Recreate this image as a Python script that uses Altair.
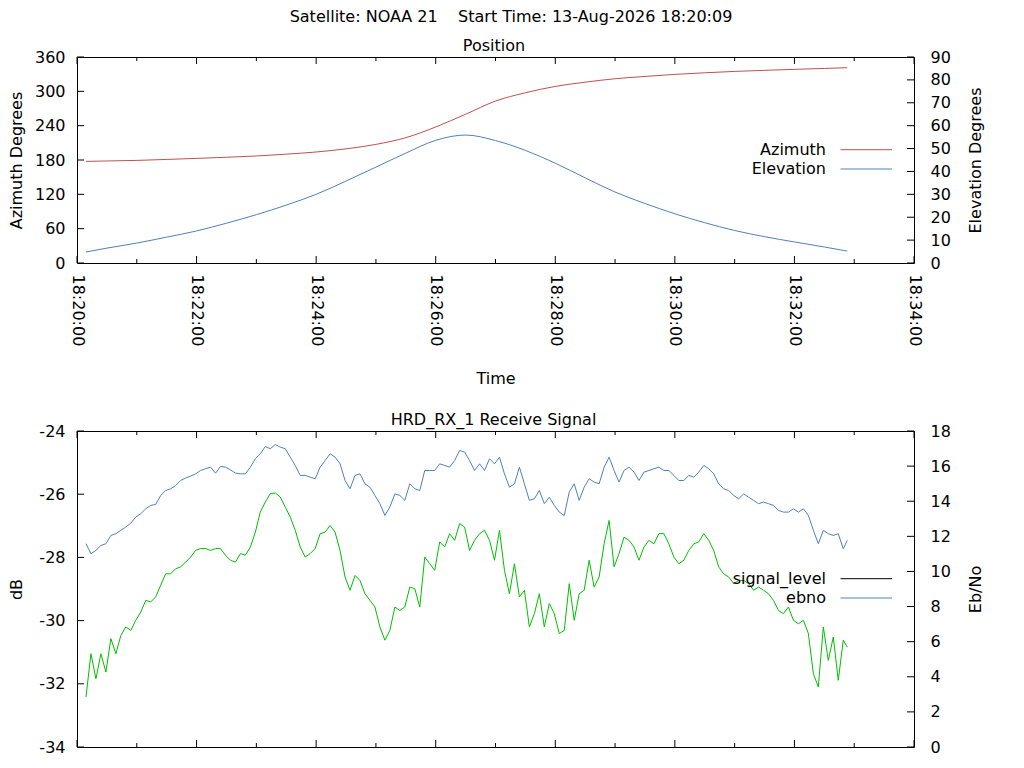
import altair as alt
import pandas as pd

DATE = "2026-08-13"
MAIN_TITLE = ["Satellite: NOAA 21\u00a0\u00a0\u00a0\u00a0Start Time: 13-Aug-2026 18:20:09"]
POS_TITLE = ["Position"]
SIG_TITLE = ["HRD_RX_1 Receive Signal"]

# ---- Position panel data ----
pos_times = ["18:20:09", "18:20:30", "18:21:00", "18:21:30", "18:22:00", "18:22:30",
             "18:23:00", "18:23:30", "18:24:00", "18:24:30", "18:25:00", "18:25:30",
             "18:26:00", "18:26:30", "18:27:00", "18:27:30", "18:28:00", "18:28:30",
             "18:29:00", "18:29:30", "18:30:00", "18:30:30", "18:31:00", "18:31:30",
             "18:32:00", "18:32:30", "18:32:53"]
azimuth = [177.6, 178.3, 179.3, 181.0, 182.8, 184.8, 187.0, 190.2, 194.0, 199.5,
           207.3, 219.0, 237.7, 260.0, 283.0, 297.5, 308.6, 316.0, 322.0, 326.0,
           329.6, 332.4, 334.8, 336.7, 338.4, 340.0, 341.3]
elevation = [4.8, 6.5, 8.7, 11.3, 14.0, 17.4, 21.1, 25.3, 30.0, 35.8,
             41.9, 48.0, 53.6, 55.9, 53.5, 49.2, 43.6, 37.2, 31.0, 26.0,
             21.5, 17.6, 14.2, 11.5, 9.2, 7.0, 5.2]

# ---- Receive signal panel data (seconds after 18:20:00) ----
sig_seconds = list(range(9, 770, 5)) + [773]
signal_level = [
    -32.42, -31.05, -31.84, -31.05, -31.63, -30.57, -31.05, -30.47, -30.20, -30.31,
    -29.99, -29.73, -29.36, -29.41, -29.25, -28.88, -28.52, -28.52, -28.36, -28.30,
    -28.15, -27.99, -27.78, -27.72, -27.72, -27.78, -27.72, -27.72, -27.93, -28.09,
    -28.15, -27.88, -27.93, -27.67, -27.20, -26.56, -26.25, -25.98, -25.96,
    -26.09, -26.41, -26.72, -27.14, -27.67, -27.99, -27.88, -27.72, -27.25, -27.20,
    -26.99, -27.20, -27.78, -28.62, -29.04, -28.57, -28.73, -29.15, -29.36, -29.57,
    -30.20, -30.62, -30.31, -29.57, -29.68, -29.57, -28.94, -28.99, -29.57, -27.99,
    -28.20, -28.41, -27.51, -27.67, -27.25, -27.46, -26.93, -27.04, -27.78, -27.46,
    -27.25, -27.14, -27.46, -28.09, -27.14, -28.41, -29.15, -28.20, -29.25, -29.04,
    -30.20, -29.78, -29.15, -30.20, -29.46, -29.78, -30.41, -30.31, -28.83, -29.99,
    -29.15, -29.04, -28.09, -28.94, -28.62, -27.57, -26.83, -28.30, -27.88, -27.36,
    -27.46, -27.67, -28.09, -27.67, -27.46, -27.57, -27.25, -27.25, -27.57, -27.99,
    -28.20, -28.09, -27.78, -27.57, -27.51, -27.25, -27.46, -27.78, -28.30, -28.52,
    -28.62, -28.83, -28.73, -28.73, -28.83, -29.04, -28.94, -29.04, -29.15, -29.36,
    -29.68, -29.78, -29.57, -29.99, -30.10, -29.99,
    -30.41, -31.68, -32.10, -30.20, -31.26, -30.52, -31.89, -30.62, -30.84,
]
ebno = [
    11.58, 11.01, 11.20, 11.48, 11.58, 12.05, 12.15, 12.34, 12.53, 12.75,
    13.10, 13.29, 13.57, 13.76, 13.82, 14.33, 14.61, 14.71, 14.90, 15.18,
    15.32, 15.43, 15.56, 15.75, 15.85, 15.94, 15.60, 15.98, 15.94, 15.79,
    15.60, 15.56, 15.56, 15.94, 16.42, 16.70, 17.12, 16.99, 17.23,
    17.08, 16.99, 16.51, 16.04, 15.47, 15.47, 15.37, 15.28, 15.94, 16.32,
    16.70, 16.51, 16.13, 15.18, 14.71, 15.47, 15.56, 14.99, 14.80, 14.33,
    13.86, 13.19, 13.67, 14.42, 14.33, 14.05, 14.99, 14.71, 14.61, 15.75,
    15.75, 15.75, 16.13, 16.04, 15.94, 16.32, 16.89, 16.80, 16.32, 15.75,
    16.13, 15.75, 16.42, 16.13, 16.51, 15.56, 14.80, 14.99, 15.94, 14.99,
    14.05, 14.14, 14.61, 13.86, 14.23, 13.76, 13.38, 13.19, 14.52, 14.99,
    14.05, 14.80, 15.28, 15.09, 14.99, 15.94, 16.51, 15.75, 15.09, 15.75,
    15.94, 15.66, 15.18, 15.66, 15.75, 15.85, 15.94, 15.75, 15.75, 15.47,
    15.18, 15.18, 15.47, 15.37, 15.66, 16.04, 15.85, 15.56, 14.99, 14.71,
    14.61, 14.33, 14.14, 14.42, 14.23, 14.05, 13.86, 13.95, 13.86, 13.76,
    13.48, 13.38, 13.38, 13.57, 13.38, 13.57, 13.19, 12.34, 11.58, 12.34,
    12.15, 12.05, 12.15, 11.29, 11.77,
]

# ---- ticks / labels ----
major_ticks = ["18:20", "18:22", "18:24", "18:26", "18:28", "18:30", "18:32", "18:34"]
minor_ticks = ["18:21", "18:23", "18:25", "18:27", "18:29", "18:31", "18:33"]
az_ticks = [0, 60, 120, 180, 240, 300, 360]
el_ticks = [0, 10, 20, 30, 40, 50, 60, 70, 80, 90]
db_ticks = [-34, -32, -30, -28, -26, -24]
ebno_ticks = [0, 2, 4, 6, 8, 10, 12, 14, 16, 18]
pos_legend = ["Azimuth", "Elevation"]
sig_legend = ["signal_level", "ebno"]

RED = "#c0504d"
BLUE = "#4f81bd"
GREEN = "#00c000"
FONT = "DejaVu Sans"

W = 837
H_TOP = 206
H_BOT = 316
MAJOR = 7
MINOR = 4


def dt(hhmm):
    h, m = (int(v) for v in hhmm.split(":"))
    return alt.DateTime(year=2026, month=8, date=13, hours=h, minutes=m)


XSCALE = alt.Scale(domain=[dt("18:20"), dt("18:34")])

pos_df = pd.DataFrame({
    "time": [f"{DATE}T{t}" for t in pos_times],
    "azimuth": azimuth,
    "elevation": elevation,
})
start = pd.Timestamp(f"{DATE} 18:20:00")
n = min(len(sig_seconds), len(signal_level), len(ebno))
sig_df = pd.DataFrame({
    "time": [(start + pd.Timedelta(seconds=s)).strftime("%Y-%m-%dT%H:%M:%S")
             for s in sig_seconds[:n]],
    "signal_level": signal_level[:n],
    "ebno": ebno[:n],
})
major_df = pd.DataFrame({"time": [f"{DATE}T{t}:00" for t in major_ticks]})
minor_df = pd.DataFrame({"time": [f"{DATE}T{t}:00" for t in minor_ticks]})

TIME_AXIS = alt.Axis(
    orient="bottom", values=[dt(v) for v in major_ticks], format="%H:%M:%S",
    ticks=False, tickSize=0, domain=False, grid=False,
    labelAngle=90, labelAlign="left", labelBaseline="middle", labelPadding=11,
    labelFlush=False, labelOverlap=False, labelFontSize=16, labelFont=FONT,
    labelColor="black",
    title="Time", titleY=120.7, titleBaseline="alphabetic", titleFontSize=16,
    titleFont=FONT, titleFontWeight="normal", titleColor="black",
)


def y_axis(orient, values, title, height):
    left = orient == "left"
    return alt.Axis(
        orient=orient, values=values, ticks=False, tickSize=0, domain=False,
        grid=False, labelFlush=False, labelOverlap=False,
        labelExpr="'' + datum.value",
        labelPadding=12 if left else 16, labelFontSize=16, labelFont=FONT,
        labelColor="black",
        title=title, titleX=-55.3 if left else 66, titleY=height / 2,
        titleAngle=270, titleAlign="center", titleBaseline="alphabetic",
        titleFontSize=16, titleFont=FONT, titleFontWeight="normal",
        titleColor="black",
    )


def x_tick_layers(height, axis):
    out = []
    for df, size in ((major_df, MAJOR), (minor_df, MINOR)):
        for y0, y1 in ((0, size), (height - size, height)):
            out.append(alt.Chart(df).mark_rule(color="black", strokeWidth=1).encode(
                x=alt.X("time:T", scale=XSCALE, axis=axis),
                y=alt.value(y0), y2=alt.value(y1)))
    return out


def y_tick_layer(values, domain, left):
    df = pd.DataFrame({"v": values})
    x0, x1 = (0, MAJOR) if left else (W - MAJOR, W)
    return alt.Chart(df).mark_rule(color="black", strokeWidth=1).encode(
        y=alt.Y("v:Q", scale=alt.Scale(domain=domain, nice=False, zero=False), axis=None),
        x=alt.value(x0), x2=alt.value(x1))


def text_layer(texts, x, y, align="center", baseline="alphabetic"):
    return alt.Chart(pd.DataFrame({"label": texts})).mark_text(
        align=align, baseline=baseline, fontSize=16, font=FONT, color="black"
    ).encode(text="label:N", x=alt.value(x), y=alt.value(y))


def legend_layers(labels, colors, ys):
    out = []
    for lab, col, yy in zip(labels, colors, ys):
        out.append(text_layer([lab], 749, yy, align="right", baseline="middle"))
        out.append(alt.Chart(pd.DataFrame({"label": [lab]})).mark_rule(
            color=col, strokeWidth=1).encode(
            x=alt.value(763.5), x2=alt.value(815), y=alt.value(yy)))
    return out


# ---- top panel ----
AZ_DOMAIN = [0, 360]
EL_DOMAIN = [0, 90]
az_line = alt.Chart(pos_df).mark_line(color=RED, strokeWidth=1, interpolate="monotone").encode(
    x=alt.X("time:T", scale=XSCALE, axis=TIME_AXIS),
    y=alt.Y("azimuth:Q", scale=alt.Scale(domain=AZ_DOMAIN, nice=False, zero=False),
            axis=y_axis("left", az_ticks, "Azimuth Degrees", H_TOP)),
)
el_line = alt.Chart(pos_df).mark_line(color=BLUE, strokeWidth=1, interpolate="monotone").encode(
    x=alt.X("time:T", scale=XSCALE, axis=TIME_AXIS),
    y=alt.Y("elevation:Q", scale=alt.Scale(domain=EL_DOMAIN, nice=False, zero=False),
            axis=y_axis("right", el_ticks, "Elevation Degrees", H_TOP)),
)
top = alt.layer(
    az_line, el_line,
    y_tick_layer(az_ticks, AZ_DOMAIN, True),
    y_tick_layer(el_ticks, EL_DOMAIN, False),
    *x_tick_layers(H_TOP, TIME_AXIS),
    *legend_layers(pos_legend, [RED, BLUE], [92.7, 112]),
    text_layer(POS_TITLE, 417, -6),
    text_layer(MAIN_TITLE, 434, -35),
).resolve_scale(y="independent").properties(width=W, height=H_TOP)

# ---- bottom panel ----
DB_DOMAIN = [-34, -24]
EB_DOMAIN = [0, 18]
sl_line = alt.Chart(sig_df).mark_line(color=GREEN, strokeWidth=1).encode(
    x=alt.X("time:T", scale=XSCALE, axis=None),
    y=alt.Y("signal_level:Q", scale=alt.Scale(domain=DB_DOMAIN, nice=False, zero=False),
            axis=y_axis("left", db_ticks, "dB", H_BOT)),
)
eb_line = alt.Chart(sig_df).mark_line(color=BLUE, strokeWidth=1).encode(
    x=alt.X("time:T", scale=XSCALE, axis=None),
    y=alt.Y("ebno:Q", scale=alt.Scale(domain=EB_DOMAIN, nice=False, zero=False),
            axis=y_axis("right", ebno_ticks, "Eb/No", H_BOT)),
)
bottom = alt.layer(
    sl_line, eb_line,
    y_tick_layer(db_ticks, DB_DOMAIN, True),
    y_tick_layer(ebno_ticks, EB_DOMAIN, False),
    *x_tick_layers(H_BOT, None),
    *legend_layers(sig_legend, ["black", BLUE], [147.7, 167]),
    text_layer(SIG_TITLE, 416.5, -6),
).resolve_scale(y="independent").properties(width=W, height=H_BOT)

chart = alt.vconcat(top, bottom, spacing=168, bounds="flush").properties(
    padding={"left": 0, "top": 0, "right": 5, "bottom": 0}
).configure(font=FONT).configure_view(stroke="black", strokeWidth=1)

chart.save("out.html", embed_options={"renderer": "svg", "actions": False})
